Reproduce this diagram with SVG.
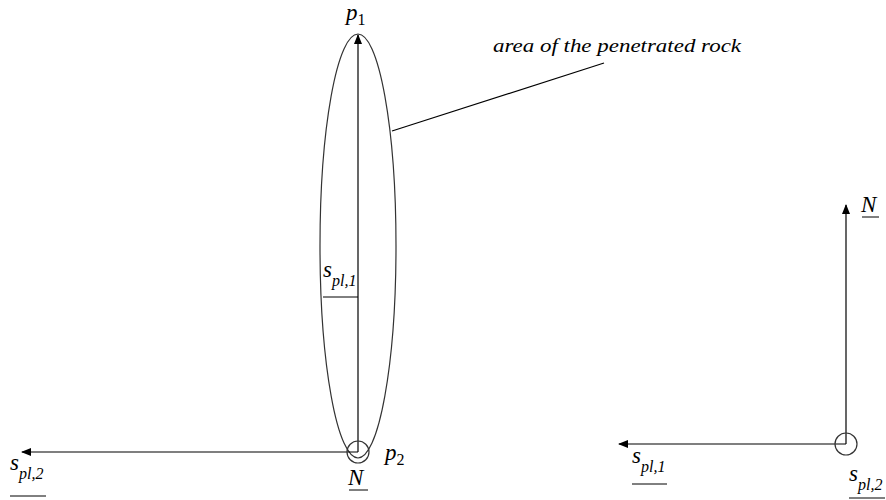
<svg xmlns="http://www.w3.org/2000/svg" width="886" height="500" viewBox="0 0 886 500">
<defs>
<marker id="ah" markerWidth="10" markerHeight="8" refX="9" refY="4" orient="auto" markerUnits="userSpaceOnUse">
<path d="M0,0 L10,4 L0,8 Z" fill="#000"/>
</marker>
<style>
.ln{stroke:#000;stroke-width:1.2;fill:none}
.sh{stroke:#333;stroke-width:1.2;fill:none}
.t{font-family:"Liberation Serif","DejaVu Serif",serif;font-style:italic;fill:#000}
.m{font-size:23px}
.s{font-size:16px}
.ul{stroke:#000;stroke-width:1}
</style>
</defs>
<rect width="886" height="500" fill="#fff"/>
<g id="area">
<ellipse cx="358" cy="246" rx="38" ry="212" class="sh"/>
</g>
<g id="connectors">
<line x1="358" y1="452" x2="358" y2="35" class="ln" marker-end="url(#ah)"/>
<line x1="358" y1="452" x2="22" y2="452" class="ln" marker-end="url(#ah)"/>
<line x1="392" y1="131" x2="604" y2="63" class="ln"/>
<line x1="846" y1="444" x2="846" y2="205" class="ln" marker-end="url(#ah)"/>
<line x1="846" y1="444" x2="619" y2="444" class="ln" marker-end="url(#ah)"/>
</g>
<g id="origin-left"><circle cx="358" cy="452" r="11" class="sh"/></g>
<g id="origin-right"><circle cx="846" cy="444" r="11" class="sh"/></g>
<g id="label-area"><text x="493" y="52" class="t" font-size="19" textLength="248" lengthAdjust="spacingAndGlyphs">area of the penetrated rock</text></g>
<g id="label-p1"><text x="346" y="20" class="t m">p<tspan class="s" dy="5" font-style="normal">1</tspan></text></g>
<g id="label-p2"><text x="385" y="460" class="t m">p<tspan class="s" dy="5" font-style="normal">2</tspan></text></g>
<g id="label-N-left"><text x="348" y="485" class="t m">N</text><line x1="349" y1="490" x2="368" y2="490" class="ul"/></g>
<g id="label-spl1-mid"><text x="323" y="277" class="t m">s<tspan class="s" dy="9">pl,1</tspan></text><line x1="323" y1="297" x2="358" y2="297" class="ul"/></g>
<g id="label-spl2-left"><text x="10" y="470" class="t m">s<tspan class="s" dy="9">pl,2</tspan></text><line x1="10" y1="496" x2="46" y2="496" class="ul"/></g>
<g id="label-N-right"><text x="861" y="212" class="t m">N</text><line x1="862" y1="217" x2="879" y2="217" class="ul"/></g>
<g id="label-spl1-right"><text x="632" y="463" class="t m">s<tspan class="s" dy="9">pl,1</tspan></text><line x1="632" y1="484" x2="667" y2="484" class="ul"/></g>
<g id="label-spl2-right"><text x="849" y="481" class="t m">s<tspan class="s" dy="9">pl,2</tspan></text><line x1="849" y1="498" x2="885" y2="498" class="ul"/></g>
</svg>
